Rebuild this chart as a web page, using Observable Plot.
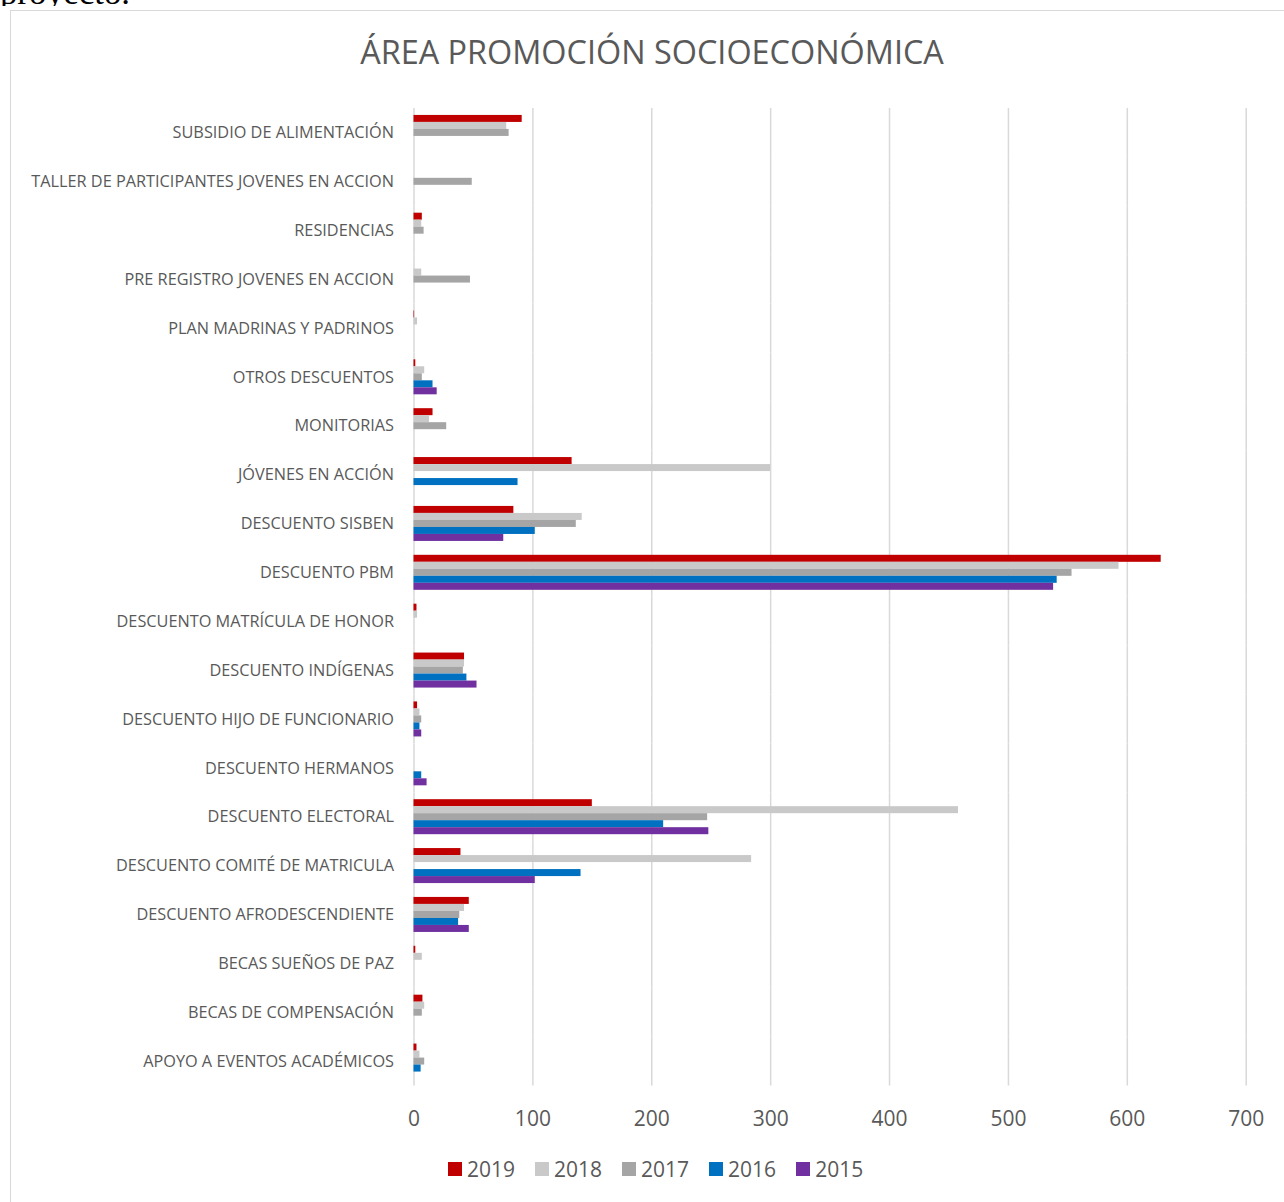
<!DOCTYPE html>
<html><head><meta charset="utf-8">
<script src="https://cdn.jsdelivr.net/npm/d3@7"></script>
<script src="https://cdn.jsdelivr.net/npm/@observablehq/plot@0.6"></script>
<style>
body{margin:0;background:#fff;}
#wrap{position:relative;width:1284px;height:1202px;overflow:hidden;font-family:"Open Sans",sans-serif;background:#fff;}
#pre{position:absolute;left:0;top:-24.1px;font-family:"Liberation Serif","Times New Roman",serif;font-size:34.7px;line-height:1;color:#000;white-space:nowrap;}
#cover{position:absolute;left:0;top:6px;width:1284px;height:1196px;background:#fff;}
#frame{position:absolute;left:10px;top:10px;width:1300px;height:1220px;border:1px solid #d9d9d9;box-sizing:border-box;}
#chart{position:absolute;left:0;top:0;}
#title{position:absolute;left:10px;width:1284px;top:34.7px;text-align:center;font-size:32.4px;line-height:1;color:#595959;white-space:nowrap;}
#legend{position:absolute;left:448px;top:1158.7px;display:flex;align-items:center;font-size:21px;line-height:1;color:#595959;}
#legend .it{display:flex;align-items:center;margin-right:20px;}
#legend .sw{width:14px;height:14px;margin-right:5px;}
</style></head><body>
<div id="wrap">
  <div id="pre">proyecto.</div>
  <div id="cover"></div>
  <div id="frame"></div>
  <div id="chart"></div>
  <div id="title">ÁREA PROMOCIÓN SOCIOECONÓMICA</div>
  <div id="legend"></div>
</div>
<script>
const categories = [
  "SUBSIDIO DE ALIMENTACIÓN",
  "TALLER DE PARTICIPANTES JOVENES EN ACCION",
  "RESIDENCIAS",
  "PRE REGISTRO JOVENES EN ACCION",
  "PLAN MADRINAS Y PADRINOS",
  "OTROS DESCUENTOS",
  "MONITORIAS",
  "JÓVENES EN ACCIÓN",
  "DESCUENTO SISBEN",
  "DESCUENTO PBM",
  "DESCUENTO MATRÍCULA DE HONOR",
  "DESCUENTO INDÍGENAS",
  "DESCUENTO HIJO DE FUNCIONARIO",
  "DESCUENTO HERMANOS",
  "DESCUENTO ELECTORAL",
  "DESCUENTO COMITÉ DE MATRICULA",
  "DESCUENTO AFRODESCENDIENTE",
  "BECAS SUEÑOS DE PAZ",
  "BECAS DE COMPENSACIÓN",
  "APOYO A EVENTOS ACADÉMICOS"
];
const years = ["2019", "2018", "2017", "2016", "2015"];
const v2019 = [91, null, 7, null, 0.5, 1.5, 16, 133, 84, 628.5, 2.5, 42.5, 3, null, 150, 39.5, 46.5, 1.5, 7.5, 2.5];
const v2018 = [78, null, 6.5, 6.5, 3, 9, 13, 300, 141.5, 593, 3, 42.5, 5, null, 458, 284, 42.5, 7, 9, 5];
const v2017 = [80, 49, 8.5, 47.5, null, 7, 27.5, null, 136.5, 553.5, null, 41.5, 6.5, null, 247, null, 38.5, null, 7, 9];
const v2016 = [null, null, null, null, null, 16, null, 87.5, 102, 541, null, 44.5, 5, 6.5, 210, 140.5, 37.5, null, null, 6];
const v2015 = [null, null, null, null, null, 19.5, null, null, 75.5, 538, null, 53, 6.5, 11, 248, 102, 46.5, null, null, null];
const colors = ["#C00000", "#C9C9C9", "#A5A5A5", "#0070C0", "#7030A0"];
const xTicks = [0, 100, 200, 300, 400, 500, 600, 700];

const series = [v2019, v2018, v2017, v2016, v2015];
const rows = [];
categories.forEach((c, i) => years.forEach((y, j) => {
  const v = series[j][i];
  if (v != null) rows.push({category: c, year: y, value: v});
}));

const plot = Plot.plot({
  width: 1284, height: 1202,
  marginLeft: 413.5, marginRight: 38.3, marginTop: 108, marginBottom: 116.5,
  style: {fontFamily: "'Open Sans', sans-serif", fontSize: "16.3px", color: "#595959", background: "transparent", overflow: "visible"},
  facet: {data: rows, y: "category"},
  fy: {domain: categories, padding: 0, round: false, label: null, axis: "left", tickSize: 0, tickPadding: 20},
  y: {domain: years, paddingInner: 0, paddingOuter: 0.99, round: false, axis: null},
  x: {domain: [0, 700], ticks: xTicks, tickSize: 0, tickPadding: 25, label: null},
  color: {domain: years, range: colors},
  marks: [
    Plot.ruleX(xTicks, {stroke: "#d9d9d9", strokeWidth: 1.5}),
    Plot.barX(rows, {x: "value", y: "year", fill: "year", insetTop: 0, insetBottom: 0})
  ]
});
document.getElementById("chart").appendChild(plot);
plot.querySelectorAll('g[aria-label^="x-axis"] text').forEach(t => { t.setAttribute("font-size", "21px"); t.style.fontSize = "21px"; });

const legend = document.getElementById("legend");
years.forEach((y, j) => {
  const it = document.createElement("div"); it.className = "it";
  const sw = document.createElement("div"); sw.className = "sw"; sw.style.background = colors[j];
  const tx = document.createElement("span"); tx.textContent = y;
  it.appendChild(sw); it.appendChild(tx); legend.appendChild(it);
});
</script>
</body></html>
